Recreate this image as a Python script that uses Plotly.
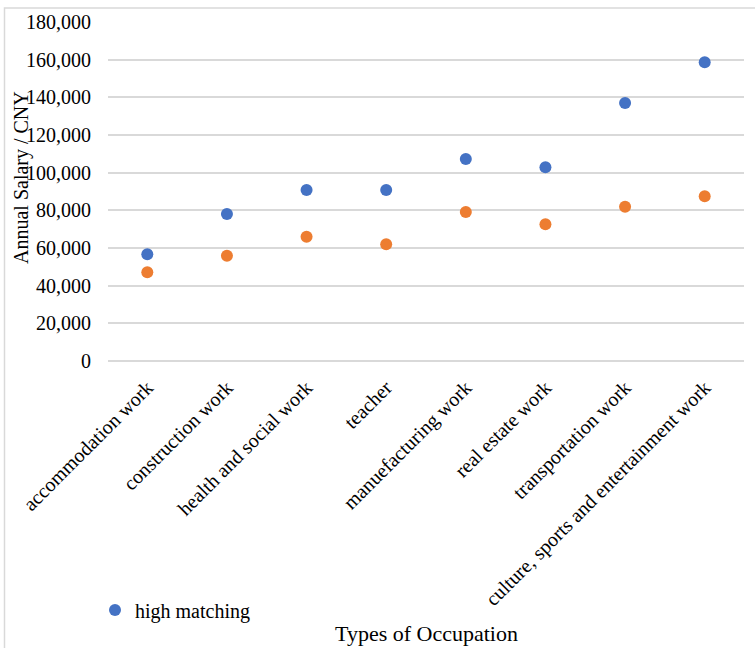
import plotly.graph_objects as go

categories = ["accommodation work", "construction work", "health and social work", "teacher",
              "manuefacturing work", "real estate work", "transportation work",
              "culture, sports and entertainment work"]
high_matching = [56700, 78000, 90800, 90800, 107300, 102900, 137000, 158600]
low_matching = [47100, 55900, 66000, 62000, 79100, 72600, 81900, 87500]
y_ticks = [0, 20000, 40000, 60000, 80000, 100000, 120000, 140000, 160000, 180000]
y_tick_text = ["0", "20,000", "40,000", "60,000", "80,000", "100,000", "120,000", "140,000", "160,000", "180,000"]

FONT = "Liberation Serif, Times New Roman, serif"

fig = go.Figure()
fig.add_trace(go.Scatter(x=categories, y=high_matching, mode="markers", name="high matching",
                         marker=dict(color="#4472C4", size=12), showlegend=True))
fig.add_trace(go.Scatter(x=categories, y=low_matching, mode="markers", name="low matching",
                         marker=dict(color="#ED7D31", size=12), showlegend=False))

L, R, T, B = 108, 11, 22, 287
W, H = 755, 648
pw = W - L - R
ph = H - T - B

def px_x(p):
    return (p - L) / pw

def px_y(p):
    return (H - B - p) / ph

fig.update_layout(
    width=W, height=H,
    margin=dict(l=L, r=R, t=T, b=B),
    paper_bgcolor="white", plot_bgcolor="white",
    font=dict(family=FONT, size=20, color="#000000"),
    showlegend=True,
    legend=dict(x=px_x(95), y=px_y(610), xanchor="left", yanchor="middle",
                font=dict(family=FONT, size=20, color="#000000"),
                bgcolor="rgba(0,0,0,0)", borderwidth=0),
    xaxis=dict(type="category", tickangle=-45, showgrid=False, showline=False, zeroline=False,
               ticks="", tickfont=dict(family=FONT, size=20, color="#000000"),
               ticklabelstandoff=10),
    yaxis=dict(range=[0, 180000], tickvals=y_ticks, ticktext=y_tick_text,
               showgrid=True, gridcolor="#d9d9d9", gridwidth=1.5,
               zeroline=True, zerolinecolor="#d9d9d9", zerolinewidth=1.5,
               showline=False, ticks="", tickfont=dict(family=FONT, size=20, color="#000000"),
               ticklabelstandoff=16),
    hovermode=False,
    shapes=[dict(type="rect", xref="paper", yref="paper",
                 x0=px_x(4.5), x1=px_x(770), y0=px_y(700), y1=px_y(8),
                 line=dict(color="#d9d9d9", width=1.5), fillcolor="rgba(0,0,0,0)", layer="below")],
    annotations=[
        dict(text="Annual Salary / CNY", xref="paper", yref="paper", x=px_x(21), y=px_y(178),
             xanchor="center", yanchor="middle", textangle=-90, showarrow=False,
             font=dict(family=FONT, size=20, color="#000000")),
        dict(text="Types of Occupation", xref="paper", yref="paper", x=px_x(426), y=px_y(633),
             xanchor="center", yanchor="middle", showarrow=False,
             font=dict(family=FONT, size=22, color="#000000")),
    ],
)

fig.write_html("out.html", config={"displayModeBar": False},
               post_script="document.body.style.margin='0';document.body.style.overflow='hidden';")
